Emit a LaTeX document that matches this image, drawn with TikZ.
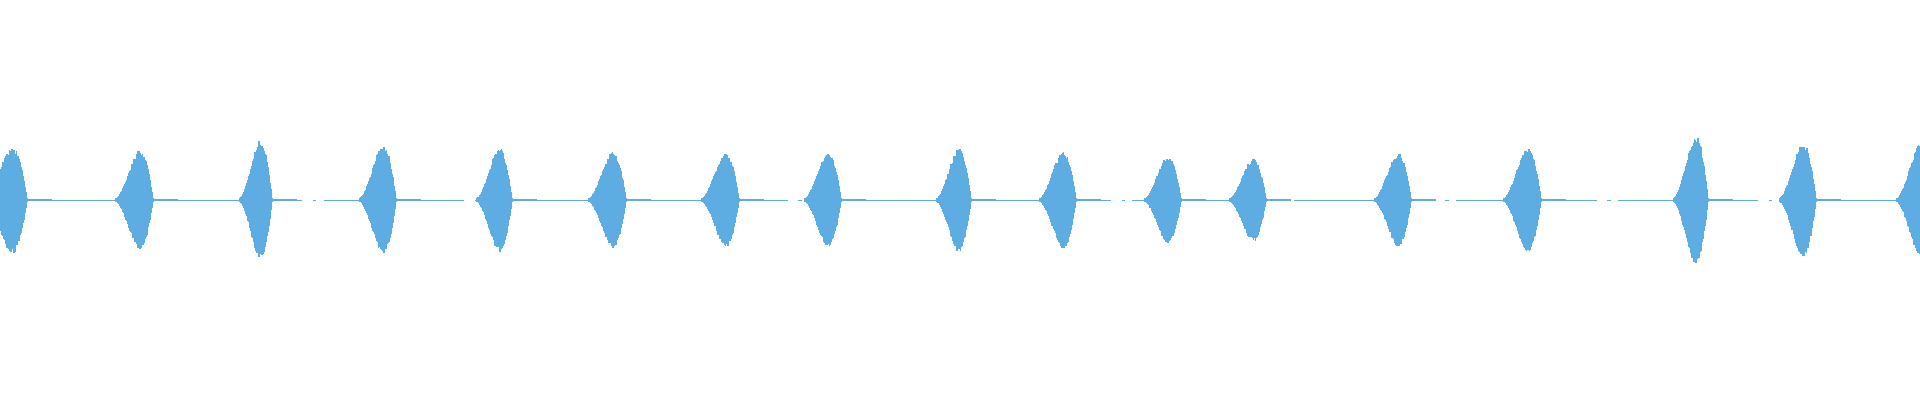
\documentclass[tikz,border=0pt]{standalone}
\usetikzlibrary{calc}
\definecolor{wave}{HTML}{5DADE2}
\tikzset{%
  % thin center line and the bursts of the signal
  baseline/.style = {draw=wave, line width=0.25pt, dash pattern=on 40pt off 3pt on 1pt off 2pt},
  stroke/.style   = {draw=wave, line width=0.13mm},
}
\begin{document}
\begin{tikzpicture}[x=0.01cm, y=-0.01cm]
  \pgfmathsetseed{7}
  \useasboundingbox (0,0) rectangle (1920,400);
  \draw[baseline] (0,200) -- (1920,200);
  % bursts: start / end / amplitude
  \foreach \s/\e/\a in {-14/27/52, 116/153/48, 240/272/58, 360/396/53,
      477/512/50, 589/626/46, 702/739/45, 805/841/45, 937/971/50,
      1040/1076/47, 1145/1181/42, 1230/1266/40, 1375/1411/45,
      1504/1541/50, 1674/1708/62, 1780/1816/55, 1897/1934/55}{
    \pgfmathtruncatemacro{\w}{2*(\e-\s)}
    \foreach \i in {0,...,\w}{
      \pgfmathsetmacro{\t}{\i/\w}
      \pgfmathsetmacro{\env}{\a*sin(180*\t^1.6)}
      \pgfmathsetmacro{\up}{\env*(0.85+0.15*rnd)+2}
      \pgfmathsetmacro{\dn}{\env*(0.85+0.15*rnd)+2}
      \draw[stroke] (\s+\i/2,200-\up) -- (\s+\i/2,200+\dn);
    }
    \draw[draw=wave, line width=0.8pt] (\e,200) -- (\e+25,200);
  }
\end{tikzpicture}
\end{document}
